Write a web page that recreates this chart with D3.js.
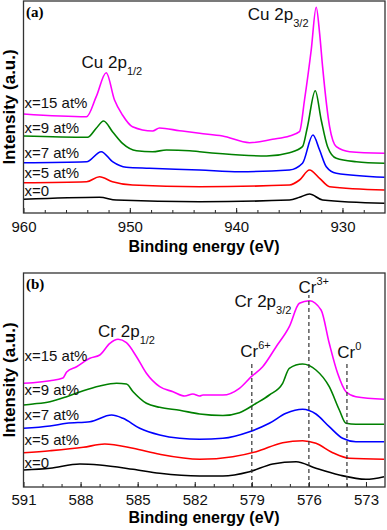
<!DOCTYPE html>
<html>
<head>
<meta charset="utf-8">
<script src="https://cdn.jsdelivr.net/npm/d3@7"></script>
<style>
  body { margin: 0; background: #fff; }
</style>
</head>
<body>
<div id="chart"></div>
<script>
// Cu 2p spectra, [binding energy (eV), intensity (a.u.)]
var cuX0 = [[960, 13.7], [952.85, 15.7], [951.28, 13], [943.44, 11.3], [934.98, 13], [934.04, 15.7],
  [933.1, 19], [931.87, 13], [926.05, 9.7]];
var cuX5 = [[960, 30.3], [954.07, 31.3], [952.85, 36.3], [951.63, 31.3], [949.75, 28], [943.44, 26.3],
  [934.98, 28], [934.04, 33], [933.1, 43], [932.15, 34.7], [931.21, 26.3], [926.05, 23]];
var cuX7 = [[960, 50.3], [954.07, 51.3], [952.69, 61.3], [951.63, 51.3], [950.34, 45.7], [948.15, 44.7],
  [943.44, 43], [939.68, 41.3], [934.98, 43], [933.76, 49.7], [932.78, 78], [932.15, 63], [931.52, 46.3],
  [930.58, 39.7], [926.05, 35.7]];
var cuX9 = [[960, 77], [953.98, 75.7], [953.16, 84.7], [952.47, 92], [951.63, 81.3], [950.69, 69.7],
  [949.37, 62.3], [947.86, 61.3], [946.55, 63], [944.38, 62.3], [943.44, 61.3], [939.68, 58], [937.14, 57],
  [934.98, 60.3], [933.76, 66.3], [933.29, 86.3], [932.56, 122.3], [932.0, 93], [931.4, 66.3],
  [930.58, 54.7], [928.7, 51.3], [926.05, 49.7]];
var cuX15 = [[960, 99], [954.07, 96.3], [953.16, 116.3], [952.22, 140.3], [951.44, 113], [950.69, 98],
  [949.75, 86.3], [947.86, 82], [947.21, 85], [945.32, 82.3], [943.44, 79.7], [941.28, 77], [938.74, 70.3],
  [936.58, 73.7], [934.98, 77], [934.04, 81.3], [933.57, 113], [932.94, 163], [932.47, 205.7],
  [932.15, 179.7], [931.87, 146.3], [931.21, 86.3], [930.58, 66.3], [929.33, 61.3], [926.05, 59.7]];

// Cr 2p spectra
var crX0 = [[591, 17], [589.61, 18.7], [588.04, 23], [586.99, 22], [585.24, 17.7], [583.84, 13.7],
  [581.74, 11], [580.52, 11], [579.12, 15.3], [577.9, 23], [576.67, 25.3], [575.63, 18.7], [574.4, 12],
  [573.0, 7.7], [572.05, 10.3]];
var crX5 = [[591, 34.3], [589.61, 36.3], [587.86, 39.7], [586.73, 43], [585.24, 38.7], [583.84, 32.7],
  [581.74, 27.7], [580.0, 30.3], [578.77, 35.3], [577.38, 44.3], [576.33, 46.3], [575.63, 43.7],
  [574.75, 34.3], [573.88, 28.7], [572.05, 27.7]];
var crX7 = [[591, 58.7], [589.61, 61], [588.73, 63.7], [587.51, 65.3], [586.37, 72], [585.77, 68.7],
  [584.89, 58.7], [583.84, 52], [582.79, 48.7], [581.74, 47.7], [580.52, 48.7], [579.12, 55.3],
  [578.08, 63.7], [577.2, 73.7], [576.33, 77.7], [575.63, 73], [574.93, 60.3], [574.23, 48.7],
  [573.53, 45.3], [572.05, 45.3]];
var crX9 = [[591, 82], [590.5, 83], [589.61, 85.3], [588.73, 90.3], [587.86, 96.3], [586.99, 101],
  [586.11, 103.7], [585.59, 103], [585.24, 95.3], [584.54, 83.7], [583.84, 79.7], [582.79, 76.7],
  [581.74, 73], [580.52, 71.5], [579.65, 74.3], [578.77, 83.7], [578.08, 92], [577.38, 103.7],
  [577.03, 118.7], [576.33, 123], [575.63, 117], [574.93, 100.3], [574.4, 77], [574.05, 63.7],
  [573.53, 62.7], [572.05, 62.7]];
var crX15 = [[591, 103.7], [590.5, 104.3], [589.61, 106.3], [588.93, 109], [588.73, 115], [588.21, 120.3],
  [587.51, 128.7], [586.99, 132], [586.46, 143.7], [586.03, 147.7], [585.59, 144.3], [585.06, 130.3],
  [584.54, 113.7], [583.84, 100.3], [583.14, 95.3], [582.53, 91], [582.1, 93], [581.74, 91],
  [581.57, 92], [580.52, 92], [579.65, 98.7], [579.03, 110.3], [578.43, 120.3], [577.72, 140.3],
  [577.03, 160.3], [576.5, 183.7], [575.98, 186.3], [575.36, 177], [574.93, 143.7], [574.49, 113.7],
  [574.05, 95.3], [573.53, 90.3], [572.05, 87.7]];

var sampleLabels = ['x=0', 'x=5 at%', 'x=7 at%', 'x=9 at%', 'x=15 at%'];
var sampleColors = ['#000000', '#ff0000', '#0000ff', '#008000', '#ff00ff'];
var cuTicks = [960, 950, 940, 930];
var crTicks = [591, 588, 585, 582, 579, 576, 573];
var crStates = [['6+', 579], ['3+', 576], ['0', 574]];

var width = 387;
var height = 530;
var sans = 'Arial, "Liberation Sans", sans-serif';

var svg = d3.select('#chart')
    .append('svg')
    .attr('width', width)
    .attr('height', height)
    .style('font-family', sans);

function drawPanel(p) {
  var x = d3.scaleLinear().domain(p.xDomain).range([23.5, 385]);
  var y = d3.scaleLinear().domain(p.yDomain).range([p.bottom, p.top]);

  var g = svg.append('g');

  // minor + major ticks, pointing inward
  g.append('g')
      .attr('transform', 'translate(0,' + p.bottom + ')')
      .call(d3.axisBottom(x).tickValues(p.minor).tickSize(-3).tickFormat(''))
      .call(function(a) {
        a.select('.domain').remove();
        a.selectAll('line').attr('stroke', '#222');
      });
  g.append('g')
      .attr('transform', 'translate(0,' + p.bottom + ')')
      .call(d3.axisBottom(x).tickValues(p.ticks).tickSize(-5).tickPadding(p.pad)
          .tickFormat(d3.format('d')))
      .call(function(a) {
        a.select('.domain').remove();
        a.selectAll('line').attr('stroke', '#222');
        a.selectAll('text').attr('font-size', 15).attr('fill', '#111')
            .style('font-family', sans);
      });

  var line = d3.line()
      .x(function(d) { return x(d[0]); })
      .y(function(d) { return y(d[1]); })
      .curve(d3.curveMonotoneX);

  g.selectAll('path.spec')
      .data(p.series)
      .enter()
      .append('path')
      .attr('class', 'spec')
      .attr('fill', 'none')
      .attr('stroke-width', 1.6)
      .attr('stroke', function(d, i) { return sampleColors[i]; })
      .attr('d', line);

  g.selectAll('text.lab')
      .data(sampleLabels)
      .enter()
      .append('text')
      .attr('class', 'lab')
      .attr('x', 24.5)
      .attr('y', function(d, i) { return y(p.labelY[i]); })
      .attr('font-size', 15)
      .attr('fill', '#111')
      .text(function(d) { return d; });

  // frame
  g.append('rect')
      .attr('x', 23.5)
      .attr('y', p.top)
      .attr('width', 385 - 23.5)
      .attr('height', p.bottom - p.top)
      .attr('fill', 'none')
      .attr('stroke', '#333')
      .attr('stroke-width', 1.3);

  g.append('text')
      .attr('x', 26)
      .attr('y', p.top + 16)
      .style('font-family', '"Liberation Serif", "Times New Roman", serif')
      .attr('font-weight', 'bold')
      .attr('font-size', 15)
      .text(p.tag);

  g.append('text')
      .attr('x', 204)
      .attr('y', p.bottom + p.titleDy)
      .attr('text-anchor', 'middle')
      .attr('font-weight', 'bold')
      .attr('font-size', 16)
      .text('Binding energy (eV)');

  g.append('text')
      .attr('transform', 'translate(15,' + ((p.top + p.bottom) / 2) + ') rotate(-90)')
      .attr('text-anchor', 'middle')
      .attr('font-weight', 'bold')
      .attr('font-size', 17)
      .text('Intensity (a.u.)');

  return {g: g, x: x, y: y};
}

function peakLabel(panel, e, v, main, sub, sup) {
  var t = panel.g.append('text')
      .attr('x', panel.x(e))
      .attr('y', panel.y(v))
      .attr('font-size', 17)
      .attr('fill', '#111');
  t.append('tspan').text(main);
  if (sub) t.append('tspan').attr('font-size', 11).attr('dy', 7).text(sub);
  if (sup) t.append('tspan').attr('font-size', 11).attr('dy', -8).text(sup);
}

var pa = drawPanel({
  xDomain: [960, 926], yDomain: [0, 212], top: 1, bottom: 213, pad: 8, titleDy: 39,
  ticks: cuTicks, minor: d3.range(958, 926, -2),
  series: [cuX0, cuX5, cuX7, cuX9, cuX15],
  labelY: [17, 35, 55, 80, 105], tag: '(a)'
});
peakLabel(pa, 954.54, 144.7, 'Cu 2p', '1/2');
peakLabel(pa, 938.9, 193, 'Cu 2p', '3/2');

var pb = drawPanel({
  xDomain: [591, 572], yDomain: [0, 214], top: 273, bottom: 487, pad: 7, titleDy: 36,
  ticks: crTicks, minor: d3.range(590, 572, -1),
  series: [crX0, crX5, crX7, crX9, crX15],
  labelY: [19, 42, 67, 92, 126], tag: '(b)'
});
peakLabel(pb, 587.08, 149.7, 'Cr 2p', '1/2');
peakLabel(pb, 579.91, 179.7, 'Cr 2p', '3/2');

// oxidation state markers
var stateTop = {'6+': 124, '3+': 192, '0': 124};
var stateText = {'6+': [579.61, 130.3], '3+': [576.55, 193.7], '0': [574.51, 128.7]};
pb.g.selectAll('line.state')
    .data(crStates)
    .enter()
    .append('line')
    .attr('class', 'state')
    .attr('x1', function(d) { return pb.x(d[1]); })
    .attr('x2', function(d) { return pb.x(d[1]); })
    .attr('y1', pb.y(0))
    .attr('y2', function(d) { return pb.y(stateTop[d[0]]); })
    .attr('stroke', '#333')
    .attr('stroke-width', 1.2)
    .attr('stroke-dasharray', '4,3');
crStates.forEach(function(d) {
  var pos = stateText[d[0]];
  peakLabel(pb, pos[0], pos[1], 'Cr', null, d[0]);
});
</script>
</body>
</html>
